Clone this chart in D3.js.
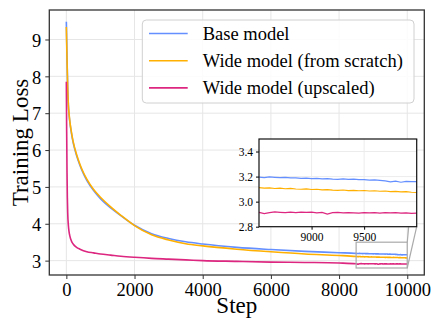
<!DOCTYPE html>
<html>
<head>
<meta charset="utf-8">
<script src="https://d3js.org/d3.v7.min.js"></script>
<style>
  body { margin: 0; background: #fff; }
  svg text { font-family: "Liberation Serif", "Times New Roman", serif; fill: #000; }
</style>
</head>
<body>
<div id="chart"></div>
<script>
// coarse part of the runs (steps 0..8000)
var steps = [0, 10, 20, 30, 40, 60, 80, 100, 150, 200, 300, 400, 500, 600, 800, 1000, 1300, 1600, 2000, 2500, 3000, 3500, 4000, 5000, 6000, 7000, 8000];
var baseLoss = [9.48, 9.0, 8.5, 8.1, 7.7, 7.2, 6.95, 6.78, 6.45, 6.2, 5.85, 5.58, 5.36, 5.18, 4.9, 4.68, 4.43, 4.22, 3.96, 3.73, 3.6, 3.51, 3.45, 3.36, 3.3, 3.25, 3.215];
var wideLoss = [9.34, 8.9, 8.45, 8.05, 7.7, 7.22, 6.98, 6.8, 6.48, 6.23, 5.88, 5.61, 5.39, 5.21, 4.93, 4.72, 4.46, 4.23, 3.95, 3.7, 3.56, 3.46, 3.4, 3.31, 3.24, 3.18, 3.14];
var upLoss = [7.85, 6.5, 5.4, 4.7, 4.3, 3.95, 3.78, 3.68, 3.53, 3.45, 3.36, 3.31, 3.27, 3.24, 3.21, 3.18, 3.15, 3.12, 3.09, 3.06, 3.04, 3.02, 3.0, 2.98, 2.96, 2.95, 2.935];

// fine part (steps 8500..10000 every 50), shown in the zoom box
var fineSteps = d3.range(8500, 10001, 50);
var baseFine = [3.196, 3.192, 3.197, 3.194, 3.191, 3.193, 3.189, 3.190, 3.186, 3.188, 3.184, 3.186, 3.182, 3.184, 3.180, 3.178, 3.181, 3.177, 3.179, 3.175, 3.176, 3.172, 3.174, 3.170, 3.166, 3.158, 3.163, 3.155, 3.161, 3.159, 3.160];
var wideFine = [3.112, 3.108, 3.110, 3.105, 3.108, 3.103, 3.106, 3.101, 3.099, 3.102, 3.097, 3.099, 3.094, 3.096, 3.092, 3.090, 3.093, 3.088, 3.090, 3.087, 3.089, 3.085, 3.087, 3.083, 3.085, 3.080, 3.082, 3.078, 3.080, 3.075, 3.073];
var upFine = [2.915, 2.905, 2.913, 2.918, 2.915, 2.912, 2.916, 2.913, 2.917, 2.914, 2.916, 2.911, 2.914, 2.901, 2.912, 2.915, 2.910, 2.913, 2.911, 2.908, 2.913, 2.910, 2.912, 2.909, 2.913, 2.910, 2.912, 2.908, 2.910, 2.907, 2.908];

var names = ["Base model", "Wide model (from scratch)", "Wide model (upscaled)"];
var colors = ["#648FFF", "#FFB000", "#DC267F"];
var xTicks = [0, 2000, 4000, 6000, 8000, 10000];
var yTicks = [3, 4, 5, 6, 7, 8, 9];
var insetXTicks = [9000, 9500];
var insetYTicks = [2.8, 3.0, 3.2, 3.4];

function join(a, b) {
  return steps.map(function(s, i) { return [s, a[i]]; })
    .concat(fineSteps.map(function(s, i) { return [s, b[i]]; }));
}
var series = [join(baseLoss, baseFine), join(wideLoss, wideFine), join(upLoss, upFine)];

var W = 431, H = 320;
var svg = d3.select("#chart").append("svg").attr("width", W).attr("height", H);

var x = d3.scaleLinear().domain([-500, 10500]).range([49.3, 424.3]);
var y = d3.scaleLinear().domain([2.61, 9.8]).range([275, 10]);

// grid
svg.append("g").selectAll("line").data(xTicks).enter().append("line")
  .attr("x1", d => x(d)).attr("x2", d => x(d)).attr("y1", 10).attr("y2", 275)
  .style("stroke", "#e6e6e6").style("stroke-width", 1);
svg.append("g").selectAll("line").data(yTicks).enter().append("line")
  .attr("x1", 49.3).attr("x2", 424.3).attr("y1", d => y(d)).attr("y2", d => y(d))
  .style("stroke", "#e6e6e6").style("stroke-width", 1);

var line = d3.line().x(d => x(d[0])).y(d => y(d[1])).curve(d3.curveMonotoneX);
series.forEach(function(s, i) {
  svg.append("path").datum(s).attr("d", line)
    .style("fill", "none").style("stroke", colors[i]).style("stroke-width", 1.6);
});

// axes
var xAxis = svg.append("g").attr("transform", "translate(0,275)")
  .call(d3.axisBottom(x).tickValues(xTicks).tickFormat(d3.format("d")).tickSize(4).tickPadding(4));
var yAxis = svg.append("g").attr("transform", "translate(49.3,0)")
  .call(d3.axisLeft(y).tickValues(yTicks).tickFormat(d3.format("d")).tickSize(4).tickPadding(4));
[xAxis, yAxis].forEach(function(g) {
  g.select(".domain").remove();
  g.selectAll("text").style("font-size", "18.5px");
  g.selectAll("line").style("stroke", "#333");
});
yAxis.selectAll("text").attr("dy", "0.36em");

svg.append("rect").attr("x", 49.3).attr("y", 10).attr("width", 375).attr("height", 265)
  .style("fill", "none").style("stroke", "#333").style("stroke-width", 1.3);

svg.append("text").attr("x", x(5000)).attr("y", 313).attr("text-anchor", "middle")
  .style("font-size", "23px").text("Step");
svg.append("text").attr("transform", "translate(28,142.5) rotate(-90)").attr("text-anchor", "middle")
  .style("font-size", "23px").text("Training Loss");

// inset
var ix = d3.scaleLinear().domain([8500, 10000]).range([259, 416.7]);
var iy = d3.scaleLinear().domain([2.8, 3.5]).range([226.7, 139]);

// zoom rectangle + connectors
svg.append("rect").attr("x", x(8500)).attr("y", y(3.5))
  .attr("width", x(10000) - x(8500)).attr("height", y(2.8) - y(3.5))
  .style("fill", "none").style("stroke", "#aaa").style("stroke-width", 1.2);
svg.append("line").attr("x1", x(10000)).attr("y1", y(3.5)).attr("x2", 416.7).attr("y2", 139)
  .style("stroke", "#aaa").style("stroke-width", 1.2);
svg.append("line").attr("x1", x(10000)).attr("y1", y(2.8)).attr("x2", 416.7).attr("y2", 226.7)
  .style("stroke", "#aaa").style("stroke-width", 1.2);

var inset = svg.append("g");
inset.append("rect").attr("x", 259).attr("y", 139).attr("width", 157.7).attr("height", 87.7)
  .style("fill", "#fff");
inset.append("g").selectAll("line").data(insetXTicks).enter().append("line")
  .attr("x1", d => ix(d)).attr("x2", d => ix(d)).attr("y1", 139).attr("y2", 226.7)
  .style("stroke", "#ececec");
inset.append("g").selectAll("line").data(insetYTicks).enter().append("line")
  .attr("x1", 259).attr("x2", 416.7).attr("y1", d => iy(d)).attr("y2", d => iy(d))
  .style("stroke", "#ececec");

var iline = d3.line().x(d => ix(d[0])).y(d => iy(d[1]));
series.forEach(function(s, i) {
  inset.append("path").datum(s.filter(d => d[0] >= 8500)).attr("d", iline)
    .style("fill", "none").style("stroke", colors[i]).style("stroke-width", 1.2);
});
var ixAxis = inset.append("g").attr("transform", "translate(0,226.7)")
  .call(d3.axisBottom(ix).tickValues(insetXTicks).tickFormat(d3.format("d")).tickSize(3).tickPadding(3));
var iyAxis = inset.append("g").attr("transform", "translate(259,0)")
  .call(d3.axisLeft(iy).tickValues(insetYTicks).tickFormat(d3.format(".1f")).tickSize(3).tickPadding(3));
[ixAxis, iyAxis].forEach(function(g) {
  g.select(".domain").remove();
  g.selectAll("text").style("font-size", "11.5px");
  g.selectAll("line").style("stroke", "#000");
});
inset.append("rect").attr("x", 259).attr("y", 139).attr("width", 157.7).attr("height", 87.7)
  .style("fill", "none").style("stroke", "#111").style("stroke-width", 1.2);

// legend
var legend = svg.append("g");
legend.append("rect").attr("x", 142.3).attr("y", 20).attr("width", 271.7).attr("height", 83)
  .attr("rx", 4).style("fill", "#fff").style("fill-opacity", 0.85)
  .style("stroke", "#d0d0d0").style("stroke-width", 1);
names.forEach(function(n, i) {
  var ly = 33.5 + i * 27.2;
  legend.append("line").attr("x1", 149).attr("x2", 187.7).attr("y1", ly).attr("y2", ly)
    .style("stroke", colors[i]).style("stroke-width", 1.6);
  legend.append("text").attr("x", 202.7).attr("y", ly).attr("dy", "0.33em")
    .style("font-size", "18.5px").text(n);
});
</script>
</body>
</html>
